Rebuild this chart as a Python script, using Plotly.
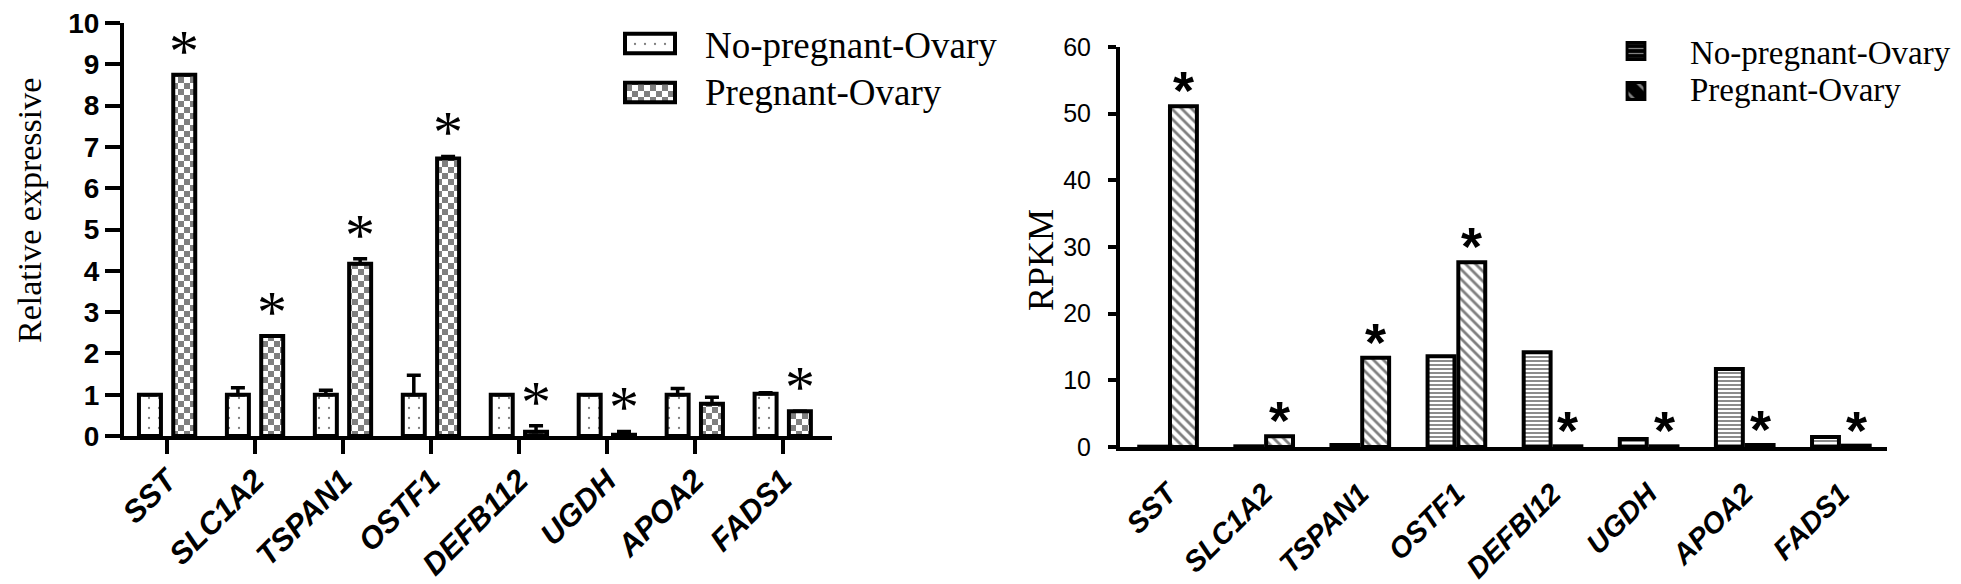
import plotly.graph_objects as go

# ---- data -------------------------------------------------------------
GENES = ['SST', 'SLC1A2', 'TSPAN1', 'OSTF1', 'DEFB112', 'UGDH', 'APOA2', 'FADS1']
GENES_RIGHT = ['SST', 'SLC1A2', 'TSPAN1', 'OSTF1', 'DEFBl12', 'UGDH', 'APOA2', 'FADS1']
SERIES = ['No-pregnant-Ovary', 'Pregnant-Ovary']

# left panel: relative expression (qPCR), upper error only
rel_nopreg = [1.0, 1.0, 1.0, 1.0, 1.0, 1.0, 1.0, 1.02]
rel_nopreg_err = [0.0, 0.17, 0.11, 0.47, 0.0, 0.0, 0.15, 0.03]
rel_preg = [8.75, 2.42, 4.17, 6.72, 0.10, 0.03, 0.78, 0.60]
rel_preg_err = [0.0, 0.0, 0.12, 0.05, 0.15, 0.08, 0.16, 0.0]
rel_sig = [True, True, True, True, True, True, False, True]

# right panel: RPKM
rpkm_nopreg = [0.05, 0.1, 0.3, 13.6, 14.2, 1.2, 11.7, 1.5]
rpkm_preg = [51.1, 1.6, 13.4, 27.7, 0.1, 0.1, 0.3, 0.2]
rpkm_sig = [True, True, True, True, True, True, True, True]

# page is 1961x584; the html body has an 8px margin, so the div is smaller
PAGE_W, PAGE_H = 1961, 584
OFF = 8
W, H = PAGE_W - OFF, PAGE_H - OFF
SERIF = 'Liberation Serif, Times New Roman, serif'
SANS = 'Liberation Sans, Arial, sans-serif'


def px_x(a, b):
    # page pixels -> paper fraction
    return [(a - OFF) / W, (b - OFF) / W]


def px_y(top, bottom):
    return [(PAGE_H - bottom) / H, (PAGE_H - top) / H]


# patterns
CHECKER = 'M0,0H6V6H0Z M6,6H12V12H6Z'
PAT_DOTS = dict(shape='.', fgcolor='black', bgcolor='white', size=10, solidity=0.04)
PAT_CHECK = dict(path=CHECKER, fgcolor='black', bgcolor='white', size=12, solidity=0.5)
PAT_HLINES = dict(shape='-', fgcolor='black', bgcolor='white', size=4, solidity=0.45)
PAT_DIAG = dict(shape='\\', fgcolor='black', bgcolor='white', size=7, solidity=0.4)

fig = go.Figure()

# ---- left panel ------------------------------------------------------
L_OFF = [-0.32, 0.07]
L_W = 0.25
fig.add_trace(go.Bar(
    x=GENES, y=rel_nopreg, name=SERIES[0], offset=L_OFF[0], width=L_W,
    marker=dict(color='white', line=dict(color='black', width=4), pattern=PAT_DOTS),
    error_y=dict(type='data', array=rel_nopreg_err, arrayminus=[0] * 8, symmetric=False,
                 color='black', thickness=3.5, width=7),
    xaxis='x', yaxis='y', showlegend=False))
fig.add_trace(go.Bar(
    x=GENES, y=rel_preg, name=SERIES[1], offset=L_OFF[1], width=L_W,
    marker=dict(color='white', line=dict(color='black', width=4), pattern=PAT_CHECK),
    error_y=dict(type='data', array=rel_preg_err, arrayminus=[0] * 8, symmetric=False,
                 color='black', thickness=3.5, width=7),
    xaxis='x', yaxis='y', showlegend=False))

# ---- right panel -----------------------------------------------------
R_OFF = [-0.30, 0.02]
R_W = 0.28
fig.add_trace(go.Bar(
    x=GENES_RIGHT, y=rpkm_nopreg, name=SERIES[0], offset=R_OFF[0], width=R_W,
    marker=dict(color='white', line=dict(color='black', width=4), pattern=PAT_HLINES),
    xaxis='x2', yaxis='y2', showlegend=False))
fig.add_trace(go.Bar(
    x=GENES_RIGHT, y=rpkm_preg, name=SERIES[1], offset=R_OFF[1], width=R_W,
    marker=dict(color='white', line=dict(color='black', width=4), pattern=PAT_DIAG),
    xaxis='x2', yaxis='y2', showlegend=False))

# ---- legend swatches (drawn as tiny horizontal bars) -----------------
fig.add_trace(go.Bar(
    y=SERIES[:1], x=[1], orientation='h', width=0.4, xaxis='x3', yaxis='y3', showlegend=False,
    marker=dict(color='white', line=dict(color='black', width=4), pattern=PAT_DOTS),
    hoverinfo='skip'))
fig.add_trace(go.Bar(
    y=SERIES[1:], x=[1], orientation='h', width=0.4, xaxis='x3', yaxis='y3', showlegend=False,
    marker=dict(color='white', line=dict(color='black', width=4), pattern=PAT_CHECK),
    hoverinfo='skip'))
fig.add_trace(go.Bar(
    y=SERIES, x=[1, 1], orientation='h', width=0.42, xaxis='x4', yaxis='y4', showlegend=False,
    marker=dict(color='black', line=dict(color='black', width=3),
                pattern=dict(shape=['-', '\\'], fgcolor='white', bgcolor='black',
                             size=[5, 14], solidity=[0.25, 0.2])),
    hoverinfo='skip'))

# ---- significance stars ---------------------------------------------
ann = []
for i, g in enumerate(GENES):
    if rel_sig[i]:
        ann.append(dict(x=i + L_OFF[1] + L_W / 2, y=rel_preg[i] + rel_preg_err[i],
                        xref='x', yref='y', text='*', showarrow=False,
                        xanchor='center', yanchor='middle', yshift=24,
                        font=dict(family=SERIF, size=60, color='black')))
for i, g in enumerate(GENES_RIGHT):
    if rpkm_sig[i]:
        ann.append(dict(x=i + R_OFF[1] + R_W / 2, y=rpkm_preg[i],
                        xref='x2', yref='y2', text='*', showarrow=False,
                        xanchor='center', yanchor='middle', yshift=16,
                        font=dict(family=SANS, size=54, color='black', weight='bold')))


def label(x, y, text, size, angle=0, xanchor='center'):
    # x, y in page pixels
    return dict(x=(x - OFF) / W, y=(PAGE_H - y) / H, xref='paper', yref='paper', text=text,
                textangle=angle, showarrow=False, xanchor=xanchor, yanchor='middle',
                font=dict(family=SERIF, size=size, color='black'))


# axis titles and legend text
ann += [
    label(29, 211, 'Relative expressive', 34, angle=-90),
    label(1041, 260, 'RPKM', 36, angle=-90),
    label(703, 45, SERIES[0], 37, xanchor='left'),
    label(703, 93, SERIES[1], 37, xanchor='left'),
    label(1688, 53, SERIES[0], 33, xanchor='left'),
    label(1688, 90, SERIES[1], 33, xanchor='left'),
]

hidden = dict(visible=False, showgrid=False, zeroline=False, fixedrange=True, automargin=False)

fig.update_layout(
    width=W, height=H,
    margin=dict(l=0, r=0, t=0, b=0, autoexpand=False),
    paper_bgcolor='white', plot_bgcolor='rgba(0,0,0,0)',
    barmode='overlay',
    showlegend=False,
    annotations=ann,
    xaxis=dict(
        domain=px_x(124, 832), range=[-0.49, 7.56], type='category', automargin=False,
        showline=True, linewidth=4, linecolor='black', mirror=False,
        ticks='outside', ticklen=14, tickwidth=4, tickcolor='black',
        ticklabelstandoff=-4, ticklabeloverflow='allow',
        tickangle=-45, showgrid=False, zeroline=False,
        tickfont=dict(family=SANS, size=31, color='black', weight='bold', style='italic'),
        anchor='y'),
    yaxis=dict(
        domain=px_y(23, 436), range=[0, 10], dtick=1, automargin=False,
        showline=True, linewidth=4, linecolor='black',
        ticks='outside', ticklen=15, tickwidth=4, tickcolor='black',
        ticklabeloverflow='allow',
        showgrid=False, zeroline=False,
        tickfont=dict(family=SANS, size=28, color='black', weight='bold'),
        anchor='x'),
    xaxis2=dict(
        domain=px_x(1120, 1887), range=[-0.5, 7.48], type='category', automargin=False,
        showline=True, linewidth=4, linecolor='black',
        ticks='outside', ticklen=14, tickwidth=1, tickcolor='rgba(0,0,0,0)',
        ticklabeloverflow='allow',
        tickangle=-45, showgrid=False, zeroline=False,
        tickfont=dict(family=SANS, size=29, color='black', weight='bold', style='italic'),
        anchor='y2'),
    yaxis2=dict(
        domain=px_y(47, 447), range=[0, 60], dtick=10, automargin=False,
        showline=True, linewidth=4, linecolor='black',
        ticks='outside', ticklen=8, tickwidth=4, tickcolor='black',
        ticklabelstandoff=12, ticklabeloverflow='allow',
        showgrid=False, zeroline=False,
        tickfont=dict(family=SANS, size=25, color='black'),
        anchor='x2'),
    xaxis3=dict(domain=px_x(620, 680), range=[-0.1, 1.1], anchor='y3', **hidden),
    yaxis3=dict(domain=px_y(19, 117), range=[1.5, -0.5], type='category',
                categoryorder='array', categoryarray=SERIES, anchor='x3', **hidden),
    xaxis4=dict(domain=px_x(1625.2, 1646.8), range=[-0.1, 1.1], anchor='y4', **hidden),
    yaxis4=dict(domain=px_y(31, 111), range=[1.5, -0.5], type='category', anchor='x4', **hidden),
)

fig.write_html("out.html")
